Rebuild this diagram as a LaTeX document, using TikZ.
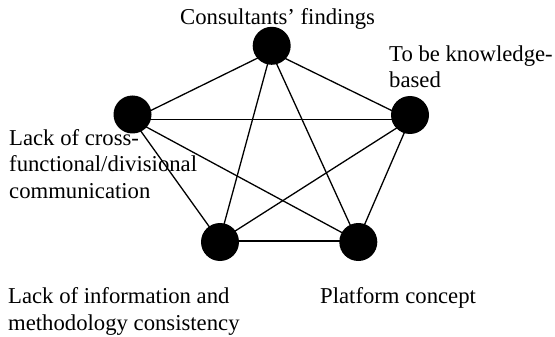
\documentclass[tikz,border=0pt]{standalone}
\usepackage{fontspec}
\setmainfont{Liberation Serif}
\begin{document}
\begin{tikzpicture}[x=1pt,y=-1pt,
  dot/.style={circle,fill=black,draw=none,minimum size=38pt,inner sep=0pt},
  edge/.style={line width=1.3pt,black},
  lbl/.style={anchor=base west,inner sep=0pt,align=left,font=\fontsize{22.7}{26.3}\selectfont}]
\useasboundingbox (0,0) rectangle (555,337);
% hubs where connectors meet
\coordinate (hT) at (271,51.5);
\coordinate (hL) at (132.5,119.5);
\coordinate (hR) at (410,119.5);
\coordinate (hA) at (219.5,241);
\coordinate (hB) at (357.5,241);
% connectors
\draw[edge] (hT) -- (hL);
\draw[edge] (hT) -- (hR);
\draw[edge] (hT) -- (hA);
\draw[edge] (hT) -- (hB);
\draw[edge] (hL) -- (hR);
\draw[edge] (hL) -- (hA);
\draw[edge] (hL) -- (hB);
\draw[edge] (hR) -- (hA);
\draw[edge] (hR) -- (hB);
\draw[edge] (hA) -- (hB);
% dots
\node[dot] (dT) at (271.7,45.8) {};
\node[dot] (dL) at (132.5,114.5) {};
\node[dot] (dR) at (410,115) {};
\node[dot] (dA) at (220,242) {};
\node[dot] (dB) at (358.3,242) {};
% labels (multi-line: anchor is the baseline of the last line)
\node[lbl] (tT) at (180,25) {Consultants’ findings};
\node[lbl] (tR) at (389,88) {To be knowledge-\\based};
\node[lbl] (tL) at (9,198) {Lack of cross-\\functional/divisional\\communication};
\node[lbl] (tA) at (8,330) {Lack of information and\\methodology consistency};
\node[lbl] (tB) at (320,303) {Platform concept};
\end{tikzpicture}
\end{document}
